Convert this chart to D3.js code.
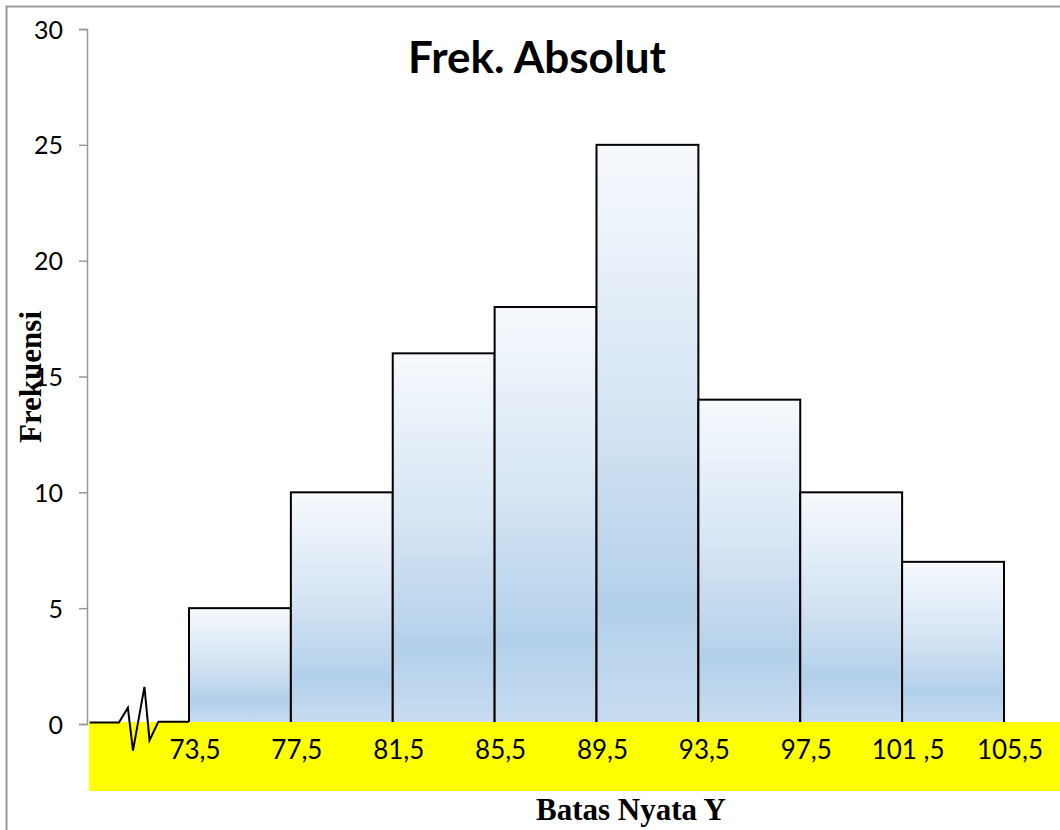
<!DOCTYPE html>
<html>
<head>
<meta charset="utf-8">
<script src="https://cdn.jsdelivr.net/npm/d3@7"></script>
<style>
  html, body { margin: 0; padding: 0; background: #fff; }
  svg { display: block; }
</style>
</head>
<body>
<svg id="chart" width="1060" height="830"></svg>
<script>
// Class boundaries (batas nyata) and class frequencies
const boundaries = [73.5, 77.5, 81.5, 85.5, 89.5, 93.5, 97.5, 101.5, 105.5];
const boundaryLabels = ["73,5", "77,5", "81,5", "85,5", "89,5", "93,5", "97,5", "101 ,5", "105,5"];
const frequencies = [5, 10, 16, 18, 25, 14, 10, 7];
const yTicks = [0, 5, 10, 15, 20, 25, 30];
// Axis-break zigzag before the first class, in data units (x, y)
const breakLine = [
  [69.6, 0.06], [70.75, 0.06], [71.1, 0.7], [71.3, -1.15], [71.75, 1.6],
  [71.95, -0.7], [72.3, 0.1], [73.5, 0.1]
];

const svg = d3.select("#chart");

const x = d3.scaleLinear().domain([73.5, 105.5]).range([189, 1004]);
const y = d3.scaleLinear().domain([0, 30]).range([724, 29]);

// Outer chart frame
svg.append("rect")
  .attr("x", 6.5).attr("y", 6.5)
  .attr("width", 1100).attr("height", 900)
  .attr("fill", "none")
  .attr("stroke", "#9a9a9a")
  .attr("stroke-width", 2);

// Bar gradient
const defs = svg.append("defs");
const grad = defs.append("linearGradient")
  .attr("id", "barFill")
  .attr("x1", 0).attr("y1", 0).attr("x2", 0).attr("y2", 1);
grad.append("stop").attr("offset", "0%").attr("stop-color", "#f6f9fd");
grad.append("stop").attr("offset", "45%").attr("stop-color", "#d6e5f4");
grad.append("stop").attr("offset", "80%").attr("stop-color", "#b3d0ea");
grad.append("stop").attr("offset", "100%").attr("stop-color", "#c8dcf0");

// Y axis
const yAxis = d3.axisLeft(y).tickValues(yTicks).tickSize(8).tickPadding(16)
  .tickFormat(d3.format("d"));
const gy = svg.append("g").attr("transform", "translate(87,0)").call(yAxis);
gy.attr("font-size", null).attr("font-family", null);
gy.select(".domain").attr("stroke", "#999").attr("stroke-width", 1.5);
gy.selectAll(".tick line").attr("stroke", "#999").attr("stroke-width", 1.5);
gy.selectAll(".tick text")
  .attr("fill", "#000")
  .attr("dy", "0.36em")
  .style("font-family", "Lato, 'Open Sans', sans-serif")
  .style("font-size", "25px");

// Histogram bars
const bins = frequencies.map((f, i) => ({ x0: boundaries[i], x1: boundaries[i + 1], f }));
svg.append("g").selectAll("rect")
  .data(bins)
  .join("rect")
  .attr("x", d => x(d.x0))
  .attr("y", d => y(d.f))
  .attr("width", d => x(d.x1) - x(d.x0))
  .attr("height", d => y(0) - y(d.f))
  .attr("fill", "url(#barFill)")
  .attr("stroke", "#000")
  .attr("stroke-width", 2);

// Highlight band behind the class-boundary labels
svg.append("rect")
  .attr("x", 89).attr("y", y(0) - 2)
  .attr("width", 1000).attr("height", 69)
  .attr("fill", "#ffff00");

// Axis break line
svg.append("path")
  .attr("d", d3.line().x(d => x(d[0])).y(d => y(d[1]))(breakLine))
  .attr("fill", "none")
  .attr("stroke", "#000")
  .attr("stroke-width", 2)
  .attr("stroke-linejoin", "miter");

// Class-boundary labels
svg.append("g").selectAll("text")
  .data(boundaries)
  .join("text")
  .attr("x", (d, i) => x(d) + 6)
  .attr("y", y(0) + 35)
  .attr("text-anchor", "middle")
  .style("font-family", "Lato, 'Open Sans', sans-serif")
  .style("font-size", "26px")
  .attr("fill", "#000")
  .text((d, i) => boundaryLabels[i]);

// Title
svg.append("text")
  .attr("x", 537).attr("y", 73)
  .attr("text-anchor", "middle")
  .style("font-family", "Lato, 'Open Sans', sans-serif")
  .style("font-weight", "bold")
  .style("font-size", "44px")
  .attr("fill", "#000")
  .text("Frek. Absolut");

// Axis titles
svg.append("text")
  .attr("transform", "translate(41,377) rotate(-90)")
  .attr("text-anchor", "middle")
  .style("font-family", "'Liberation Serif', 'Times New Roman', serif")
  .style("font-weight", "bold")
  .style("font-size", "31px")
  .attr("fill", "#000")
  .text("Frekuensi");

svg.append("text")
  .attr("x", 631).attr("y", 820)
  .attr("text-anchor", "middle")
  .style("font-family", "'Liberation Serif', 'Times New Roman', serif")
  .style("font-weight", "bold")
  .style("font-size", "31px")
  .attr("fill", "#000")
  .text("Batas Nyata Y");
</script>
</body>
</html>
